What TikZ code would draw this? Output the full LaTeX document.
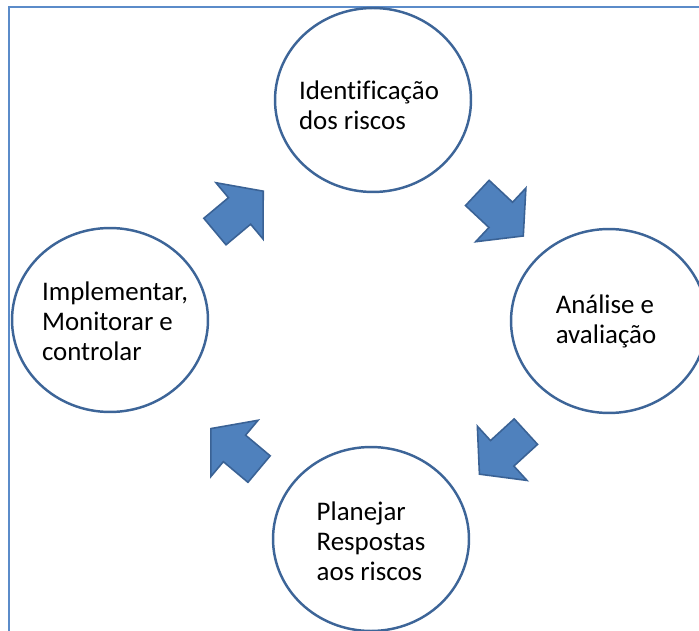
\documentclass[tikz,border=0pt]{standalone}
\usepackage{fontspec}
\setmainfont{Carlito}[Ligatures=NoCommon]
\usetikzlibrary{shapes.geometric,shapes.arrows}

\definecolor{circleblue}{HTML}{3D6598}
\definecolor{arrowblue}{HTML}{4F81BD}
\definecolor{arrowedge}{HTML}{3A6295}
\definecolor{frameblue}{HTML}{5B8BC9}

\begin{document}
\begin{tikzpicture}[x=0.02cm, y=-0.02cm,
		etapa/.style={ellipse, draw=circleblue, line width=1.4pt, minimum width=3.92cm, minimum height=3.68cm, inner sep=0pt},
		rotulo/.style={align=left, inner sep=0pt, font=\fontsize{15.3}{17}\selectfont},
		seta/.style={single arrow, draw=arrowedge, fill=arrowblue, line width=0.9pt, inner xsep=0pt, inner ysep=0.33cm, single arrow head extend=0.39cm, single arrow tip angle=100, minimum height=1.26cm, sloped, allow upside down, midway}]
		\clip (0,0) rectangle (699,631);
		
		\coordinate (T) at (373,100);
		\coordinate (R) at (609,321);
		\coordinate (B) at (371,539);
		\coordinate (L) at (110,320);
		
		%Frame
		\draw[frameblue, line width=1.1pt] (9,7) rectangle (720,650);
		
		%Circles
		\node[etapa] (ident) at (T) {};
		\node[etapa] (analise) at (R) {};
		\node[etapa] (planejar) at (B) {};
		\node[etapa] (implementar) at (L) {};
		
		\node[rotulo] (t1) at ([shift={(-4,5)}]ident.center) {Identificação\\dos riscos};
		\node[rotulo] (t2) at ([shift={(-3,0)}]analise.center) {Análise e\\avaliação};
		\node[rotulo] (t3) at ([shift={(0,2)}]planejar.center) {Planejar\\Respostas\\aos riscos};
		\node[rotulo] (t4) at ([shift={(5,1)}]implementar.center) {Implementar,\\Monitorar e\\controlar};
		
		%Arrows
		\path ([shift={(-8,6)}]implementar.center) -- ([shift={(-8,6)}]ident.center) node[seta] (s1) {};
		\path ([shift={(4,-1)}]ident.center) -- ([shift={(4,-1)}]analise.center) node[seta] (s2) {};
		\path ([shift={(18,18)}]analise.center) -- ([shift={(18,18)}]planejar.center) node[seta] (s3) {};
		\path ([shift={(0,24)}]planejar.center) -- ([shift={(0,24)}]implementar.center) node[seta] (s4) {};
		
\end{tikzpicture}
\end{document}
